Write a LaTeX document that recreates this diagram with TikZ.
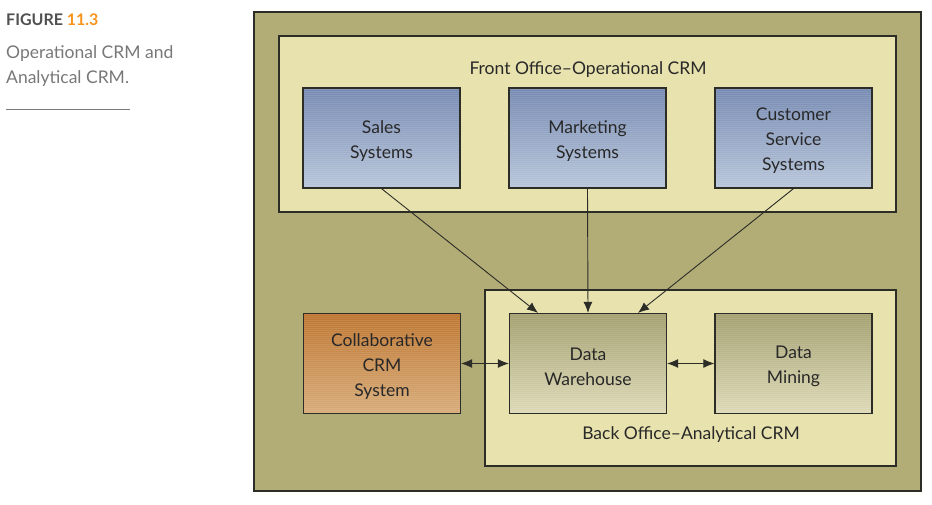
\documentclass[tikz,border=0pt]{standalone}
\usepackage{fontspec}
\setmainfont{Lato}
\usetikzlibrary{arrows.meta,calc}
\definecolor{olive}{RGB}{178,172,118}
\definecolor{cream}{RGB}{232,226,174}
\definecolor{edge}{RGB}{45,45,40}
\definecolor{txt}{RGB}{40,40,40}
\definecolor{blueT}{RGB}{118,138,178}
\definecolor{blueB}{RGB}{184,198,218}
\definecolor{orT}{RGB}{190,118,48}
\definecolor{orB}{RGB}{216,172,122}
\definecolor{dwT}{RGB}{164,160,112}
\definecolor{dwB}{RGB}{222,218,184}
\definecolor{capgray}{RGB}{120,120,120}
\definecolor{figorange}{RGB}{247,148,29}
\tikzset{
  sysbox/.style={draw=edge, line width=1.2pt, minimum width=157pt, minimum height=100pt,
    inner sep=0pt,
    path picture={\foreach \k in {1,3,...,99}{\draw[white,opacity=0.10,line width=0.7pt]
      ([yshift=-\k pt]path picture bounding box.north west) -- ([yshift=-\k pt]path picture bounding box.north east);}}},
  boxtxt/.style={align=center, font=\fontsize{17.5}{25}\selectfont, text=txt, inner sep=0pt, yshift=-3pt},
  bluebox/.style={sysbox, top color=blueT, bottom color=blueB},
  orbox/.style={sysbox, top color=orT, bottom color=orB},
  dwbox/.style={sysbox, top color=dwT, bottom color=dwB},
  frame/.style={draw=edge, line width=1.2pt},
  lbl/.style={font=\fontsize{17.5}{25}\selectfont, text=txt, inner sep=0pt},
  conn/.style={draw=edge, line width=0.9pt, -{Latex[length=11pt,width=9pt]}},
  dconn/.style={draw=edge, line width=0.9pt, {Latex[length=11pt,width=9pt]}-{Latex[length=11pt,width=9pt]}}
}
\begin{document}
\begin{tikzpicture}[x=1pt,y=-1pt]
\useasboundingbox (0,0) rectangle (932,504);
% caption
\node[anchor=base west, inner sep=0pt, font=\fontsize{16}{18}\selectfont\bfseries, text={rgb,255:red,80;green,80;blue,80}] (figlbl) at (6,25) {FIGURE \textcolor{figorange}{11.3}};
\node[anchor=base west, inner sep=0pt, align=left, font=\fontsize{17.5}{25}\selectfont, text=capgray] (figcap) at (6,83) {Operational CRM and\\Analytical CRM.};
\draw[capgray, line width=0.8pt] (6,109) -- (130,109);
% frames
\path[frame, line width=1.6pt, fill=olive] (254,12) rectangle (921,491);
\path[frame, fill=cream] (279,36) rectangle (896,212);
\path[frame, fill=cream] (485,290) rectangle (896,466);
\node[lbl] (fo) at (588,70) {Front Office–Operational CRM};
\node[lbl] (bo) at (691,435) {Back Office–Analytical CRM};
% boxes
\node[bluebox, label={[boxtxt]center:{Sales\\Systems}}] (sales) at (381.5,138) {};
\node[bluebox, label={[boxtxt]center:{Marketing\\Systems}}] (mkt) at (587.5,138) {};
\node[bluebox, label={[boxtxt]center:{Customer\\Service\\Systems}}] (cust) at (793.5,138) {};
\node[orbox, label={[boxtxt]center:{Collaborative\\CRM\\System}}] (collab) at (382,363.5) {};
\node[dwbox, label={[boxtxt]center:{Data\\Warehouse}}] (dw) at (588,363.5) {};
\node[dwbox, label={[boxtxt]center:{Data\\Mining}}] (dm) at (793.5,363.5) {};
% connectors
\coordinate (dwL) at ($(dw.north)+(-50,0)$);
\coordinate (dwR) at ($(dw.north)+(50,0)$);
\draw[conn] (sales.south) -- (dwL);
\draw[conn] (mkt.south) -- (dw.north);
\draw[conn] (cust.south) -- (dwR);
\draw[dconn] (collab.east) -- (dw.west);
\draw[dconn] (dw.east) -- (dm.west);
\end{tikzpicture}
\end{document}
